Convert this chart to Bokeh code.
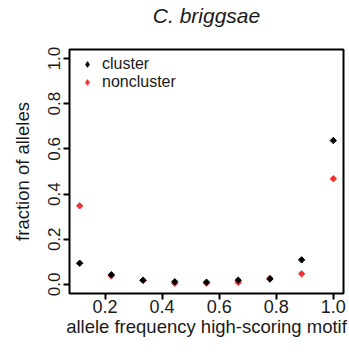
import math
from bokeh.plotting import figure
from bokeh.models import FixedTicker, Legend, LegendItem, Range1d, LinearAxis
from bokeh.embed import file_html
from bokeh.resources import INLINE

# data
freq = [1/9, 2/9, 3/9, 4/9, 5/9, 6/9, 7/9, 8/9, 1.0]
cluster = [0.094, 0.043, 0.019, 0.012, 0.010, 0.019, 0.024, 0.109, 0.637]
noncluster = [0.348, 0.038, 0.018, 0.005, 0.006, 0.009, 0.028, 0.047, 0.468]
x_ticks = [0.2, 0.4, 0.6, 0.8, 1.0]
y_ticks = [0.0, 0.2, 0.4, 0.6, 0.8, 1.0]
title_text = "C. briggsae"

FONT = "Liberation Sans"
RED = "#F03232"
TXT = "#1a1a1a"
NAN = float("nan")

p = figure(width=349, height=354, output_backend="svg", toolbar_location=None,
           x_range=Range1d(0.0755, 1.0356), y_range=Range1d(-0.04, 1.04),
           min_border_left=69, min_border_right=6, min_border_top=48, min_border_bottom=61)

p.grid.visible = False
p.outline_line_color = "black"
p.outline_line_width = 2
p.background_fill_color = "white"
p.border_fill_color = "white"

r_non = p.scatter(freq, noncluster, marker="square", angle=math.pi/4, size=4.5,
                  fill_color=RED, line_color=RED, line_width=1)
r_clu = p.scatter(freq, cluster, marker="square", angle=math.pi/4, size=4.5,
                  fill_color="black", line_color="black", line_width=1)

# legend-only glyphs (diamond shape)
l_clu = p.scatter([NAN], [NAN], marker="diamond", size=9, fill_color="black", line_color="black")
l_non = p.scatter([NAN], [NAN], marker="diamond", size=9, fill_color=RED, line_color=RED)

xax = p.below[0]
yax = p.left[0]
for ax in (xax, yax):
    ax.axis_line_color = None
    ax.major_tick_in = 0
    ax.major_tick_out = 6
    ax.major_tick_line_width = 2
    ax.major_tick_line_color = "black"
    ax.minor_tick_line_color = None
    ax.major_label_text_font = FONT
    ax.major_label_text_color = TXT
    ax.axis_label_text_font = FONT
    ax.axis_label_text_font_size = "18.5px"
    ax.axis_label_text_font_style = "normal"
    ax.axis_label_text_color = TXT

xax.major_label_text_font_size = "18px"
yax.major_label_text_font_size = "17px"
xax.ticker = FixedTicker(ticks=x_ticks)
xax.major_label_overrides = {t: f"{t:.1f}" for t in x_ticks}
yax.ticker = FixedTicker(ticks=y_ticks)
yax.major_label_overrides = {t: f"{t:.1f}" for t in y_ticks}
yax.major_label_orientation = "parallel"
xax.axis_label = "allele frequency high-scoring motif"
yax.axis_label = "fraction of alleles"
xax.major_label_standoff = 0
yax.major_label_standoff = 3
xax.axis_label_standoff = 0
yax.axis_label_standoff = 13

# title rendered as the label of an empty top axis (keeps it in the top border)
top_axis = LinearAxis(ticker=FixedTicker(ticks=[]), axis_label=title_text,
                      axis_line_color=None, major_tick_out=0, major_tick_in=0,
                      minor_tick_out=0, minor_tick_in=0, major_label_standoff=0,
                      minor_tick_line_color=None, major_tick_line_color=None,
                      axis_label_standoff=23, axis_label_text_font=FONT,
                      axis_label_text_font_style="italic", axis_label_text_font_size="21px",
                      axis_label_text_color=TXT)
p.add_layout(top_axis, "above")

legend = Legend(items=[LegendItem(label="cluster", renderers=[l_clu]),
                       LegendItem(label="noncluster", renderers=[l_non])],
                location="top_left", margin=6, padding=0,
                glyph_width=24, glyph_height=14, label_height=14,
                label_standoff=3, spacing=0,
                border_line_color=None, background_fill_alpha=0,
                label_text_font=FONT, label_text_font_size="16px",
                label_text_color=TXT)
p.add_layout(legend)

open("out.html", "w").write(file_html(p, INLINE))
